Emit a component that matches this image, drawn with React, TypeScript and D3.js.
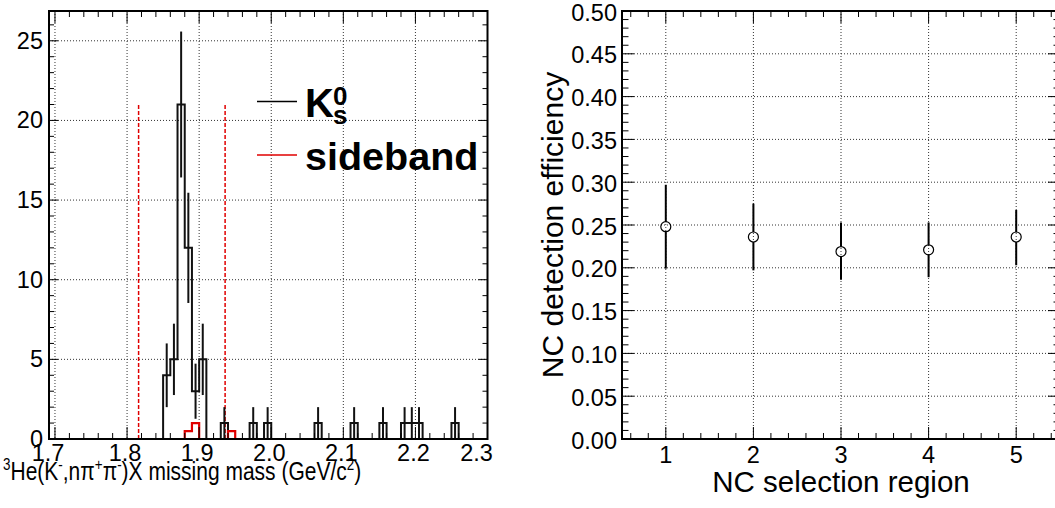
import React from "react";
import * as d3 from "d3";

// ---------- Left panel data: 3He(K-, n pi+ pi-)X missing mass histogram (bin width 0.01 GeV/c^2)
const k0BinLow = [1.85, 1.86, 1.87, 1.88, 1.89, 1.90, 1.93, 1.97, 1.99, 2.06, 2.11, 2.15, 2.18, 2.19, 2.20, 2.25];
const k0Counts = [4, 5, 21, 12, 3, 5, 1, 1, 1, 1, 1, 1, 1, 1, 1, 1];
const k0Errors = [2, 2.24, 4.58, 3.46, 1.73, 2.24, 1, 1, 1, 1, 1, 1, 1, 1, 1, 1];
const sbBinLow = [1.88, 1.89, 1.94];
const sbCounts = [0.5, 1, 0.5];
const binWidth = 0.01;
const cutLines = [1.816, 1.936];
const cutHeight = 21;
const massTicks = ["1.7", "1.8", "1.9", "2.0", "2.1", "2.2", "2.3"];
const countTicks = ["0", "5", "10", "15", "20", "25"];

// ---------- Right panel data: NC detection efficiency
const regions = [1, 2, 3, 4, 5];
const efficiency = [0.248, 0.236, 0.219, 0.221, 0.236];
const effHigh = [0.297, 0.275, 0.253, 0.253, 0.2675];
const effLow = [0.199, 0.197, 0.186, 0.189, 0.203];
const effTicks = ["0.00", "0.05", "0.10", "0.15", "0.20", "0.25", "0.30", "0.35", "0.40", "0.45", "0.50"];
const regionTicks = ["1", "2", "3", "4", "5"];

const FONT = "'Liberation Sans', Arial, Helvetica, sans-serif";
const GRID = "#333";
const RED = "#e00000";

function stepPoints(lows: number[], counts: number[], xmin: number, xmax: number): [number, number][] {
  const pts: [number, number][] = [[xmin, 0]];
  let prevHi = xmin;
  lows.forEach((lo, i) => {
    const hi = +(lo + binWidth).toFixed(4);
    if (Math.abs(lo - prevHi) > 1e-6) {
      pts.push([prevHi, 0]);
      pts.push([lo, 0]);
    }
    pts.push([lo, counts[i]]);
    pts.push([hi, counts[i]]);
    prevHi = hi;
  });
  pts.push([prevHi, 0]);
  pts.push([xmax, 0]);
  return pts;
}

function LeftPanel() {
  const L = 49, R = 487.5, T = 11, B = 439;
  const x = d3.scaleLinear().domain([1.6917, 2.3]).range([L, R]);
  const y = d3.scaleLinear().domain([0, 26.87]).range([B, T]);
  const line = d3.line<[number, number]>().x(d => x(d[0])).y(d => y(d[1]));
  const k0Path = line(stepPoints(k0BinLow, k0Counts, 1.6917, 2.3)) || "";
  const sbPath = line(stepPoints(sbBinLow, sbCounts, 1.6917, 2.3)) || "";

  const xMajor = massTicks.map(t => +t);
  const xMinor = d3.range(0, 31).map(i => 1.7 + i * 0.02);
  const yMajor = countTicks.map(t => +t);
  const yMinor = d3.range(0, 27);
  const sup = 16;

  return (
    <g>
      {/* grid */}
      {xMajor.filter(v => v < 2.29).map(v => (
        <line key={"gx" + v} x1={x(v)} x2={x(v)} y1={T} y2={B} stroke={GRID} strokeWidth={1} strokeDasharray="1 2" />
      ))}
      {yMajor.filter(v => v > 0).map(v => (
        <line key={"gy" + v} x1={L} x2={R} y1={y(v)} y2={y(v)} stroke={GRID} strokeWidth={1} strokeDasharray="1 2" />
      ))}
      {/* cut lines */}
      {cutLines.map(v => (
        <line key={"cut" + v} x1={x(v)} x2={x(v)} y1={y(0)} y2={y(cutHeight)} stroke={RED} strokeWidth={1.5} strokeDasharray="4 2" />
      ))}
      {/* K0 histogram */}
      <path d={k0Path} fill="none" stroke="#111" strokeWidth={2} />
      {k0BinLow.map((lo, i) => {
        const c = lo + binWidth / 2;
        return (
          <line key={"err" + i} x1={x(c)} x2={x(c)} y1={y(Math.max(0, k0Counts[i] - k0Errors[i]))} y2={y(k0Counts[i] + k0Errors[i])} stroke="#111" strokeWidth={2} />
        );
      })}
      {/* sideband histogram */}
      <path d={sbPath} fill="none" stroke={RED} strokeWidth={2.2} />
      {/* frame */}
      <rect x={L} y={T} width={R - L} height={B - T} fill="none" stroke="#000" strokeWidth={2} />
      {/* ticks */}
      {xMinor.map(v => {
        const major = xMajor.some(m => Math.abs(m - v) < 1e-6);
        const len = major ? 12 : 6;
        return (
          <g key={"tx" + v.toFixed(2)}>
            <line x1={x(v)} x2={x(v)} y1={B} y2={B - len} stroke="#000" strokeWidth={1} />
            <line x1={x(v)} x2={x(v)} y1={T} y2={T + len} stroke="#000" strokeWidth={1} />
          </g>
        );
      })}
      {yMinor.map(v => {
        const len = v % 5 === 0 ? 9 : 5;
        return (
          <g key={"ty" + v}>
            <line x1={L} x2={L + len} y1={y(v)} y2={y(v)} stroke="#000" strokeWidth={1} />
            <line x1={R} x2={R - len} y1={y(v)} y2={y(v)} stroke="#000" strokeWidth={1} />
          </g>
        );
      })}
      {/* labels */}
      {massTicks.map((t, i) => {
        const shift = i === 0 ? -7 : i === massTicks.length - 1 ? -11 : -2;
        return (
          <text key={"lx" + t} x={x(+t) + shift} y={461} textAnchor="middle" fontSize={23.5} fontFamily={FONT}>{t}</text>
        );
      })}
      {countTicks.map(t => (
        <text key={"ly" + t} x={43} y={y(+t)} textAnchor="end" dominantBaseline="central" fontSize={23.5} fontFamily={FONT}>{t}</text>
      ))}
      {/* axis title */}
      <text transform="translate(3,480) scale(0.84,1)" x={0} y={0} fontSize={25} fontFamily={FONT}>
        <tspan fontSize={sup} dy={-10}>3</tspan>
        <tspan dy={10}>He(K</tspan>
        <tspan fontSize={sup} dy={-10}>-</tspan>
        <tspan dy={10}>,nπ</tspan>
        <tspan fontSize={sup} dy={-10}>+</tspan>
        <tspan dy={10}>π</tspan>
        <tspan fontSize={sup} dy={-10}>-</tspan>
        <tspan dy={10}>)X missing mass (GeV/c</tspan>
        <tspan fontSize={sup} dy={-10}>2</tspan>
        <tspan dy={10}>)</tspan>
      </text>
      {/* legend */}
      <line x1={257} x2={297} y1={101.5} y2={101.5} stroke="#000" strokeWidth={1.5} />
      <text x={305} y={117} fontSize={40} fontWeight="bold" fontFamily={FONT}>K</text>
      <text x={333} y={105} fontSize={26} fontWeight="bold" fontFamily={FONT}>0</text>
      <text x={333} y={124} fontSize={26} fontWeight="bold" fontFamily={FONT}>s</text>
      <line x1={257} x2={297} y1={155} y2={155} stroke={RED} strokeWidth={1.5} />
      <text x={305} y={170} fontSize={39.5} fontWeight="bold" fontFamily={FONT}>sideband</text>
    </g>
  );
}

function RightPanel() {
  const L = 622, R = 1060, T = 11, B = 439;
  const x = d3.scaleLinear().domain([0.5, 5.5]).range([L, R]);
  const y = d3.scaleLinear().domain([0, 0.5]).range([B, T]);
  const xMinor = d3.range(0, 26).map(i => 0.6 + i * 0.2);
  const yMinor = d3.range(0, 51).map(i => i * 0.01);
  const r = 5;

  return (
    <g>
      {regionTicks.map(t => (
        <line key={"gx" + t} x1={x(+t)} x2={x(+t)} y1={T} y2={B} stroke={GRID} strokeWidth={1} strokeDasharray="1 2" />
      ))}
      {effTicks.filter(t => +t > 0 && +t < 0.5).map(t => (
        <line key={"gy" + t} x1={L} x2={R} y1={y(+t)} y2={y(+t)} stroke={GRID} strokeWidth={1} strokeDasharray="1 2" />
      ))}
      {/* points */}
      {regions.map((g, i) => (
        <g key={"pt" + g}>
          <line x1={x(g)} x2={x(g)} y1={y(effHigh[i])} y2={y(efficiency[i]) - r} stroke="#000" strokeWidth={2} />
          <line x1={x(g)} x2={x(g)} y1={y(efficiency[i]) + r} y2={y(effLow[i])} stroke="#000" strokeWidth={2} />
          <circle cx={x(g)} cy={y(efficiency[i])} r={r} fill="none" stroke="#000" strokeWidth={1.2} />
        </g>
      ))}
      <rect x={L} y={T} width={R - L} height={B - T} fill="none" stroke="#000" strokeWidth={2} />
      {xMinor.map(v => {
        const major = Math.abs(v - Math.round(v)) < 1e-6;
        const len = major ? 12 : 6;
        return (
          <g key={"tx" + v.toFixed(1)}>
            <line x1={x(v)} x2={x(v)} y1={B} y2={B - len} stroke="#000" strokeWidth={1} />
            <line x1={x(v)} x2={x(v)} y1={T} y2={T + len} stroke="#000" strokeWidth={1} />
          </g>
        );
      })}
      {yMinor.map((v, i) => {
        const len = i % 5 === 0 ? 12 : 6.5;
        return (
          <g key={"ty" + i}>
            <line x1={L} x2={L + len} y1={y(v)} y2={y(v)} stroke="#000" strokeWidth={1} />
            <line x1={R} x2={R - len} y1={y(v)} y2={y(v)} stroke="#000" strokeWidth={1} />
          </g>
        );
      })}
      {regionTicks.map(t => (
        <text key={"lx" + t} x={x(+t)} y={463} textAnchor="middle" fontSize={23.5} fontFamily={FONT}>{t}</text>
      ))}
      {effTicks.map(t => (
        <text key={"ly" + t} x={617} y={y(+t) + 1.5} textAnchor="end" dominantBaseline="central" fontSize={23.5} fontFamily={FONT}>{t}</text>
      ))}
      <text x={(L + R) / 2} y={492} textAnchor="middle" fontSize={29.5} fontFamily={FONT}>NC selection region</text>
      <text transform={`translate(563, ${(T + B) / 2}) rotate(-90)`} textAnchor="middle" fontSize={30} fontFamily={FONT}>NC detection efficiency</text>
    </g>
  );
}

export default function App() {
  return (
    <svg width={1055} height={508} style={{ position: "absolute", left: 0, top: 0, background: "#fff" }}>
      <rect x={0} y={0} width={1055} height={508} fill="#fff" />
      <LeftPanel />
      <RightPanel />
    </svg>
  );
}
